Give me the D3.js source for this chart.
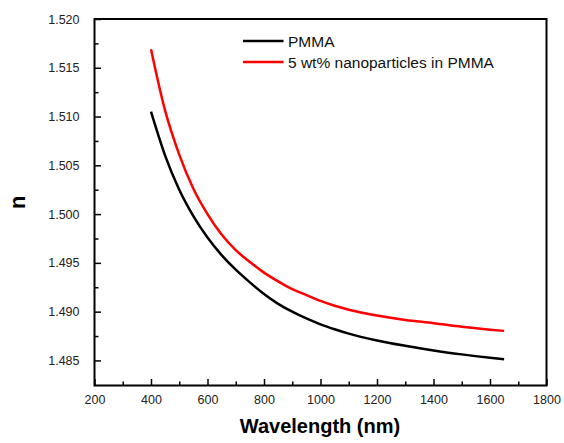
<!DOCTYPE html>
<html>
<head>
<meta charset="utf-8">
<script src="https://cdn.jsdelivr.net/npm/d3@7"></script>
<style>
  body { margin: 0; background: #fff; }
  svg { display: block; font-family: Arial, "Liberation Sans", sans-serif; }
</style>
</head>
<body>
<div id="chart"></div>
<script>
// wavelengths (nm) and refractive index
let wavelengths = [400, 450, 500, 550, 600, 650, 700, 750, 800, 850, 900, 950, 1000, 1050, 1100, 1200, 1300, 1400, 1500, 1600, 1650];
let pmma = [1.5105, 1.5060, 1.5025, 1.4998, 1.4976, 1.4958, 1.4943, 1.4930, 1.4918, 1.4908, 1.4900, 1.4893, 1.4887, 1.4882, 1.48775, 1.48705, 1.4865, 1.48602, 1.48562, 1.48528, 1.48513];
let nanoPmma = [1.5169, 1.5106, 1.5061, 1.5026, 1.5000, 1.4979, 1.4963, 1.4951, 1.4940, 1.4931, 1.4923, 1.4917, 1.4911, 1.4906, 1.4902, 1.4896, 1.48915, 1.48882, 1.48845, 1.48815, 1.48803];
let seriesNames = ['PMMA', '5 wt% nanoparticles in PMMA'];
let seriesColors = ['#000000', '#ff0000'];
let xTicks = [200, 400, 600, 800, 1000, 1200, 1400, 1600, 1800];
let yTicks = [1.485, 1.490, 1.495, 1.500, 1.505, 1.510, 1.515, 1.520];

let width = 564,
    height = 443,
    margin = {left: 94.5, top: 19, right: 17.5, bottom: 57.5},
    plotW = width - margin.left - margin.right,
    plotH = height - margin.top - margin.bottom;

let svg = d3.select('#chart').append('svg')
    .attr('width', width)
    .attr('height', height);

let g = svg.append('g')
    .attr('transform', `translate(${margin.left}, ${margin.top})`);

let x = d3.scaleLinear()
    .domain([200, 1800])
    .range([0, plotW]);

let y = d3.scaleLinear()
    .domain([1.48243, 1.520])
    .range([plotH, 0]);

// minor ticks
let xMinor = d3.range(300, 1800, 200);
let yMinor = d3.range(1.4875, 1.520, 0.005);

g.append('g')
    .attr('transform', `translate(0, ${plotH})`)
    .call(d3.axisBottom(x).tickValues(xTicks).tickFormat(d3.format('d'))
        .tickSizeInner(-6.5).tickSizeOuter(0).tickPadding(10));

g.append('g')
    .attr('transform', `translate(0, ${plotH})`)
    .call(d3.axisBottom(x).tickValues(xMinor).tickFormat('')
        .tickSizeInner(-4).tickSizeOuter(0));

g.append('g')
    .call(d3.axisLeft(y).tickValues(yTicks).tickFormat(d3.format('.3f'))
        .tickSizeInner(-6.5).tickSizeOuter(0).tickPadding(15));

g.append('g')
    .call(d3.axisLeft(y).tickValues(yMinor).tickFormat('')
        .tickSizeInner(-4).tickSizeOuter(0));

g.selectAll('.tick line').attr('stroke', '#000').attr('stroke-width', 1.5);
g.selectAll('.domain').remove();
g.selectAll('.tick text')
    .attr('font-size', '12.5px')
    .attr('fill', '#222');

// frame
g.append('rect')
    .attr('width', plotW)
    .attr('height', plotH)
    .attr('fill', 'none')
    .attr('stroke', '#000')
    .attr('stroke-width', 2);

let line = d3.line()
    .x(d => x(d[0]))
    .y(d => y(d[1]))
    .curve(d3.curveMonotoneX);

[pmma, nanoPmma].forEach((vals, i) => {
    g.append('path')
        .datum(wavelengths.map((w, j) => [w, vals[j]]))
        .attr('fill', 'none')
        .attr('stroke', seriesColors[i])
        .attr('stroke-width', 2.5)
        .attr('d', line);
});

// legend
let legend = svg.append('g')
    .attr('transform', 'translate(243, 41)');

seriesNames.forEach((name, i) => {
    legend.append('line')
        .attr('x1', 0).attr('x2', 40.5)
        .attr('y1', i * 21).attr('y2', i * 21)
        .attr('stroke', seriesColors[i])
        .attr('stroke-width', 2.5);
    legend.append('text')
        .attr('x', 45)
        .attr('y', i * 21 + 5.5)
        .attr('font-size', '15.5px')
        .attr('fill', '#111')
        .text(name);
});

// axis titles
svg.append('text')
    .attr('x', margin.left + plotW / 2 - 0.5)
    .attr('y', 433)
    .attr('text-anchor', 'middle')
    .attr('font-size', '20px')
    .attr('font-weight', 'bold')
    .text('Wavelength (nm)');

svg.append('text')
    .attr('transform', `translate(25, ${margin.top + plotH / 2}) rotate(-90)`)
    .attr('text-anchor', 'middle')
    .attr('font-size', '22px')
    .attr('font-weight', 'bold')
    .text('n');
</script>
</body>
</html>
